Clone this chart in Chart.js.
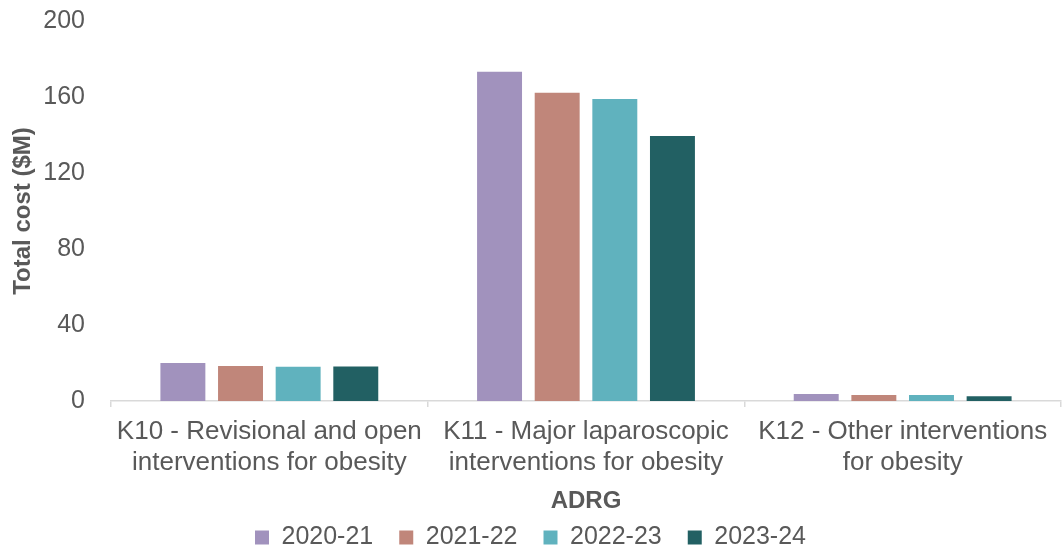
<!DOCTYPE html>
<html>
<head>
<meta charset="utf-8">
<script src="https://cdn.jsdelivr.net/npm/chart.js@4.4.1/dist/chart.umd.min.js"></script>
<style>
  html, body { margin: 0; padding: 0; background: #ffffff; }
  #wrap { width: 1062px; height: 552px; position: relative; }
</style>
</head>
<body>
<div id="wrap"><canvas id="c" width="1062" height="552"></canvas></div>
<script>
// ADRG categories (multi-line labels)
const categories = [
  ['K10 - Revisional and open', 'interventions for obesity'],
  ['K11 - Major laparoscopic', 'interventions for obesity'],
  ['K12 - Other interventions', 'for obesity']
];

// Total cost ($M) by financial year
const fy2020_21 = [20.0, 173.3, 3.7];
const fy2021_22 = [18.4, 162.3, 3.2];
const fy2022_23 = [18.0, 158.9, 3.2];
const fy2023_24 = [18.2, 139.5, 2.5];

const seriesNames = ['2020-21', '2021-22', '2022-23', '2023-24'];
const seriesColors = ['#A192BD', '#C0867A', '#60B2BE', '#226063'];

const yTicks = [0, 40, 80, 120, 160, 200];

const textGrey = '#595959';
const fontFamily = 'Arial, "Liberation Sans", sans-serif';

Chart.defaults.font.family = fontFamily;
Chart.defaults.color = textGrey;

const values = [fy2020_21, fy2021_22, fy2022_23, fy2023_24];

new Chart(document.getElementById('c'), {
  type: 'bar',
  data: {
    labels: categories,
    datasets: seriesNames.map((name, i) => ({
      label: name,
      data: values[i],
      backgroundColor: seriesColors[i],
      borderWidth: 0,
      categoryPercentage: 0.728,
      barPercentage: 0.78
    }))
  },
  options: {
    responsive: false,
    animation: false,
    devicePixelRatio: 1,
    layout: { padding: { top: 0, right: 1, bottom: -8, left: 0 } },
    plugins: {
      tooltip: { enabled: false },
      legend: {
        position: 'bottom',
        labels: {
          boxWidth: 14,
          boxHeight: 14,
          padding: 26,
          color: textGrey,
          font: { size: 25 }
        }
      }
    },
    scales: {
      x: {
        afterFit: (scale) => { scale.height = 98; },
        grid: {
          display: true,
          drawOnChartArea: false,
          drawTicks: true,
          tickLength: 6,
          color: '#D9D9D9',
          lineWidth: 1.5
        },
        border: { display: true, color: '#D9D9D9', width: 1.5 },
        ticks: {
          color: textGrey,
          font: { size: 26, lineHeight: 1.17 },
          maxRotation: 0,
          autoSkip: false,
          padding: 10
        },
        title: {
          display: true,
          text: 'ADRG',
          color: textGrey,
          font: { size: 24, weight: 'bold', lineHeight: 1.1 },
          padding: { top: 0, bottom: -16 }
        }
      },
      y: {
        min: 0,
        max: 200,
        afterBuildTicks: (scale) => { scale.ticks = yTicks.map(v => ({ value: v })); },
        afterFit: (scale) => { scale.width = 111; },
        grid: { display: false, tickLength: 20 },
        border: { display: false },
        ticks: {
          color: textGrey,
          font: { size: 25 },
          padding: 6
        },
        title: {
          display: true,
          text: 'Total cost ($M)',
          color: textGrey,
          font: { size: 24, weight: 'bold' },
          padding: { top: 9, bottom: 4 }
        }
      }
    }
  }
});
</script>
</body>
</html>
